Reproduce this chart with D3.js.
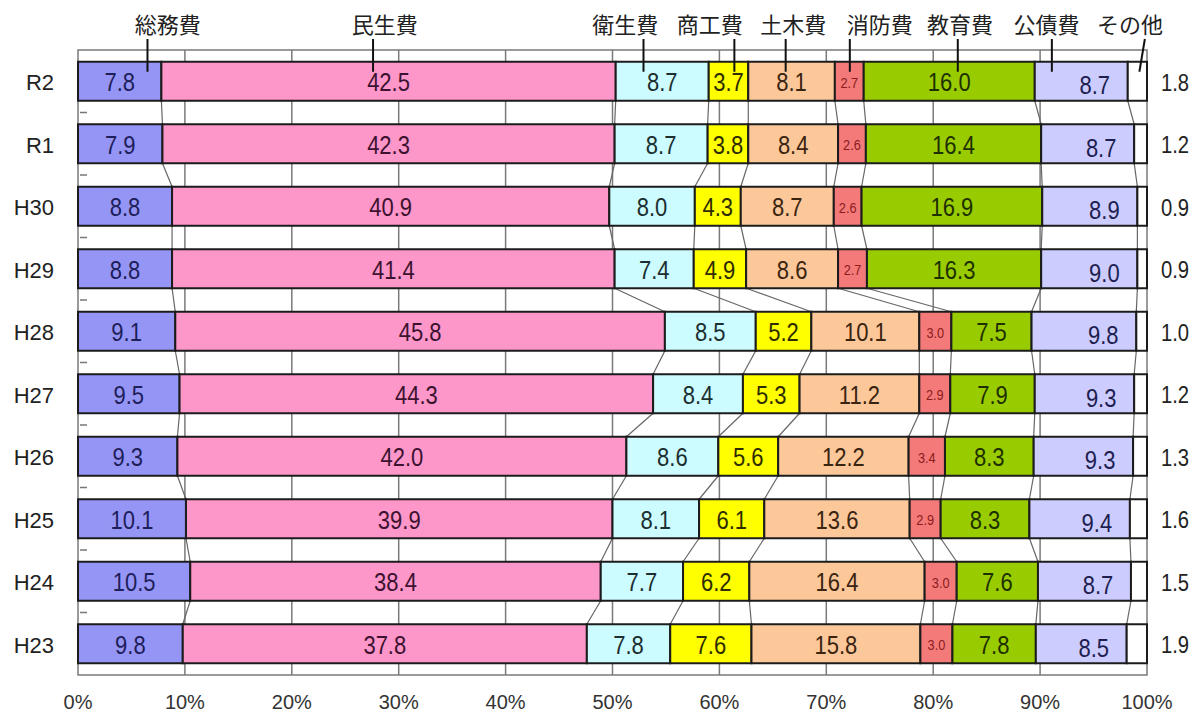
<!DOCTYPE html>
<html>
<head>
<meta charset="utf-8">
<script src="https://cdn.jsdelivr.net/npm/d3@7"></script>
<style>
  html, body { margin: 0; padding: 0; background: #fff; }
  svg { display: block; }
</style>
</head>
<body>
<svg id="chart" width="1193" height="713"></svg>
<script>
// ------------------------------------------------------------
// data
// ------------------------------------------------------------
var years = ['R2', 'R1', 'H30', 'H29', 'H28', 'H27', 'H26', 'H25', 'H24', 'H23'];
var seriesNames = ['総務費', '民生費', '衛生費', '商工費', '土木費', '消防費', '教育費', '公債費', 'その他'];

var soumu   = [7.8, 7.9, 8.8, 8.8, 9.1, 9.5, 9.3, 10.1, 10.5, 9.8];
var minsei  = [42.5, 42.3, 40.9, 41.4, 45.8, 44.3, 42.0, 39.9, 38.4, 37.8];
var eisei   = [8.7, 8.7, 8.0, 7.4, 8.5, 8.4, 8.6, 8.1, 7.7, 7.8];
var shoukou = [3.7, 3.8, 4.3, 4.9, 5.2, 5.3, 5.6, 6.1, 6.2, 7.6];
var doboku  = [8.1, 8.4, 8.7, 8.6, 10.1, 11.2, 12.2, 13.6, 16.4, 15.8];
var shoubou = [2.7, 2.6, 2.6, 2.7, 3.0, 2.9, 3.4, 2.9, 3.0, 3.0];
var kyouiku = [16.0, 16.4, 16.9, 16.3, 7.5, 7.9, 8.3, 8.3, 7.6, 7.8];
var kousai  = [8.7, 8.7, 8.9, 9.0, 9.8, 9.3, 9.3, 9.4, 8.7, 8.5];
var sonota  = [1.8, 1.2, 0.9, 0.9, 1.0, 1.2, 1.3, 1.6, 1.5, 1.9];

var xTicks = [0, 10, 20, 30, 40, 50, 60, 70, 80, 90, 100];

// where each series name sits above the top bar (percent units)
var calloutText = [8.4, 28.7, 51.2, 59.1, 66.9, 75.0, 82.5, 90.6, 98.4];
var calloutLine = [6.5, 27.6, 52.9, 61.4, 66.2, 72.2, 82.3, 91.1, 99.8];

// ------------------------------------------------------------
// styles
// ------------------------------------------------------------
var fills = ['#9595f5', '#fd96c9', '#ccfcff', '#ffff00', '#fcc89a', '#f47a7a', '#99cc00', '#ccccff', '#ffffff'];
var inks  = ['#1e1e5a', '#3c1230', '#1c2e30', '#2e2c00', '#3a2410', '#8a1c1c', '#1e3000', '#1e1e50', '#222'];

var values = [soumu, minsei, eisei, shoukou, doboku, shoubou, kyouiku, kousai, sonota];

// one row object per year with running totals
var rows = years.map(function(yr, i) {
    var acc = 0;
    var segs = values.map(function(arr, s) {
        var seg = { s: s, v: arr[i], x0: acc, x1: acc + arr[i] };
        acc += arr[i];
        return seg;
    });
    return { year: yr, segs: segs };
});

var svg = d3.select('#chart');
var plotL = 78, plotR = 1147, plotT = 50, plotB = 675;

var x = d3.scaleLinear().domain([0, 100]).range([plotL, plotR]);
var y = d3.scaleBand().domain(years).range([plotT, plotB])
    .paddingInner(0.376).paddingOuter(0.188);

var numFont = '"Liberation Sans", Arial, sans-serif';
var jpFont = '"Noto Sans CJK JP", "Noto Sans CJK SC", sans-serif';

// grid lines
svg.append('g').selectAll('line')
    .data(xTicks.slice(1, -1))
    .enter().append('line')
    .attr('x1', function(d) { return x(d); })
    .attr('x2', function(d) { return x(d); })
    .attr('y1', plotT).attr('y2', plotB)
    .style('stroke', '#7a7a7a')
    .style('stroke-width', 1.5);

// plot frame
svg.append('rect')
    .attr('x', plotL).attr('y', plotT)
    .attr('width', plotR - plotL).attr('height', plotB - plotT)
    .style('fill', 'none')
    .style('stroke', '#7a7a7a')
    .style('stroke-width', 1.5);

// small ticks between categories on the left edge
var bounds = years.slice(0, -1).map(function(d) { return y(d) + y.bandwidth() + y.step() * y.paddingInner() / 2; });
svg.append('g').selectAll('line')
    .data(bounds)
    .enter().append('line')
    .attr('x1', plotL + 2).attr('x2', plotL + 9)
    .attr('y1', function(d) { return d; }).attr('y2', function(d) { return d; })
    .style('stroke', '#777')
    .style('stroke-width', 1.5);

// connector lines between neighbouring bars
var conn = svg.append('g');
rows.forEach(function(r, i) {
    if (i === rows.length - 1) return;
    var next = rows[i + 1];
    for (var s = 0; s < seriesNames.length - 1; s++) {
        conn.append('line')
            .attr('x1', x(r.segs[s].x1))
            .attr('y1', y(r.year) + y.bandwidth())
            .attr('x2', x(next.segs[s].x1))
            .attr('y2', y(next.year))
            .style('stroke', '#666')
            .style('stroke-width', 1.2);
    }
});

// bars
var rowG = svg.append('g').selectAll('g.row')
    .data(rows)
    .enter().append('g')
    .attr('class', 'row')
    .attr('transform', function(d) { return 'translate(0,' + y(d.year) + ')'; });

rowG.selectAll('rect')
    .data(function(d) { return d.segs; })
    .enter().append('rect')
    .attr('x', function(d) { return x(d.x0); })
    .attr('width', function(d) { return x(d.x1) - x(d.x0); })
    .attr('y', 0)
    .attr('height', y.bandwidth())
    .style('fill', function(d) { return fills[d.s]; })
    .style('stroke', '#1c1c1c')
    .style('stroke-width', 2);

// value labels
rowG.selectAll('text.val')
    .data(function(d) { return d.segs; })
    .enter().append('text')
    .attr('class', 'val')
    .attr('transform', function(d) {
        var cx, cy = y.bandwidth() / 2 + 1;
        if (d.s === 8) {
            cx = plotR + 14;
        } else if (d.s === 7) {
            cx = x(d.x1) - 33;
            cy += 3;
        } else {
            cx = (x(d.x0) + x(d.x1)) / 2;
        }
        var sx = d.s === 5 ? 0.85 : 0.88;
        return 'translate(' + cx + ',' + cy + ') scale(' + sx + ',1)';
    })
    .attr('dy', '0.36em')
    .style('text-anchor', function(d) { return d.s === 8 ? 'start' : 'middle'; })
    .style('font-family', numFont)
    .style('font-size', function(d) { return d.s === 5 ? '15px' : (d.s === 8 ? '23px' : '25px'); })
    .style('fill', function(d) { return inks[d.s]; })
    .text(function(d) { return d.v.toFixed(1); });

// year labels
svg.append('g').selectAll('text')
    .data(years)
    .enter().append('text')
    .attr('x', 54)
    .attr('y', function(d) { return y(d) + y.bandwidth() / 2 + 1; })
    .attr('dy', '0.36em')
    .style('text-anchor', 'end')
    .style('font-family', numFont)
    .style('font-size', '22px')
    .style('fill', '#222')
    .text(function(d) { return d; });

// x axis labels
svg.append('g').selectAll('text')
    .data(xTicks)
    .enter().append('text')
    .attr('x', function(d) { return x(d); })
    .attr('y', 709)
    .style('text-anchor', 'middle')
    .style('font-family', numFont)
    .style('font-size', '20px')
    .style('fill', '#333')
    .text(function(d) { return d + '%'; });

// series names with leader lines to the top bar
var topRow = rows[0];
var callout = svg.append('g');
seriesNames.forEach(function(name, s) {
    callout.append('text')
        .attr('x', x(calloutText[s]))
        .attr('y', 33)
        .style('text-anchor', 'middle')
        .style('font-family', jpFont)
        .style('font-size', '22px')
        .style('fill', '#222')
        .text(name);
    var lx = x(calloutLine[s]);
    var bx = s === 8 ? x((topRow.segs[s].x0 + topRow.segs[s].x1) / 2) + 2 : lx;
    callout.append('line')
        .attr('x1', lx).attr('y1', 39)
        .attr('x2', bx).attr('y2', y(topRow.year) + 10)
        .style('stroke', '#111')
        .style('stroke-width', 2);
});
</script>
</body>
</html>
